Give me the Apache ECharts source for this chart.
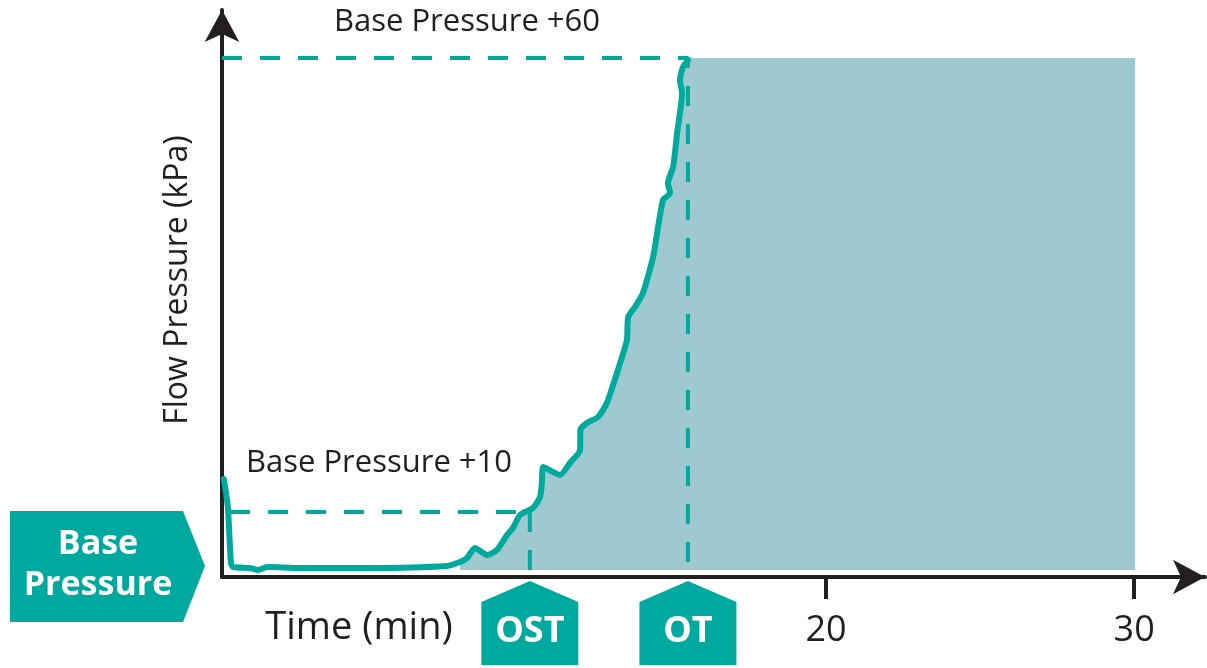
<!DOCTYPE html>
<html>
<head>
<meta charset="utf-8">
<script src="https://cdn.jsdelivr.net/npm/echarts@6/dist/echarts.min.js"></script>
<style>
  html, body { margin: 0; background: #fff; }
  #main { width: 1207px; height: 668px; }
</style>
</head>
<body>
<div id="main"></div>
<script>
// flow pressure trace, [time (min), pressure (schematic units)]
const pressureCurve = [
  [0.46, 19.6], [0.59, 14], [0.69, 2.8], [0.76, 2], [1.31, 1.8], [1.57, 1.4],
  [1.86, 2], [2.93, 1.8], [5.11, 1.8], [7.7, 2.2], [8.12, 3], [8.35, 3.8],
  [8.61, 5.8], [9.0, 4.4], [9.32, 5.4], [9.65, 8.4], [9.84, 9.8], [10.07, 12.4],
  [10.49, 13.8], [10.72, 16], [10.78, 18.8], [10.82, 22], [11.37, 20.4],
  [11.69, 22.8], [12.02, 25.4], [12.03, 29.4], [12.24, 30.8], [12.6, 32],
  [12.89, 34.8], [13.32, 42.8], [13.54, 47.4], [13.58, 52], [13.8, 54],
  [14.06, 56.8], [14.39, 64], [14.71, 75.4], [14.94, 76.8], [14.87, 78.8],
  [15.04, 82], [15.17, 88.8], [15.33, 96.8], [15.26, 99.4], [15.36, 102],
  [15.52, 103.4]
];
const timeTicks = [20, 30];
const markerNames = ['OST', 'OT'];
const markerTimes = [10.39, 15.52];
const levelNames = ['Base Pressure +10', 'Base Pressure +60'];
const levelValues = [13, 103.8];
const fillStart = 8.12;   // where the shaded area begins
const fillBase = 1.4;     // bottom of the shaded area
const aucEnd = 30.03;

const teal = '#00A99D';
const ink = '#231F20';
const font = '"Open Sans", "Noto Sans", sans-serif';

// shaded AUC polygon: under the curve, then the block up to +60
let aucPoly = pressureCurve.filter(p => p[0] >= fillStart);
aucPoly = aucPoly.concat([
  [markerTimes[1], levelValues[1]], [aucEnd, levelValues[1]],
  [aucEnd, fillBase], [fillStart, fillBase]
]);

const dashed = { color: teal, width: 4, type: [20, 18] };

let chart = echarts.init(document.getElementById('main'));
chart.setOption({
  animation: false,
  grid: { left: 222, right: 2, top: 10, bottom: 91, outerBoundsMode: 'none' },
  xAxis: {
    type: 'value', min: 0.4, max: 32.3,
    splitLine: { show: false },
    axisLine: { lineStyle: { color: ink, width: 4 }, symbol: ['none', 'arrow'], symbolSize: [26, 32] },
    axisTick: { customValues: timeTicks, length: 22, lineStyle: { color: ink, width: 4 } },
    axisLabel: { customValues: timeTicks, color: ink, fontSize: 36, fontFamily: font, margin: 36 }
  },
  yAxis: {
    type: 'value', min: 0, max: 113.4,
    splitLine: { show: false },
    axisLine: { show: true, lineStyle: { color: ink, width: 4 }, symbol: ['none', 'arrow'], symbolSize: [26, 32] },
    axisTick: { show: false },
    axisLabel: { show: false }
  },
  series: [
    {
      type: 'custom', silent: true, z: 1,
      data: [0],
      renderItem: function (params, api) {
        return {
          type: 'polygon',
          shape: { points: aucPoly.map(p => api.coord(p)) },
          style: { fill: '#9DC9CF' }
        };
      }
    },
    {
      type: 'line', silent: true, z: 2, symbol: 'none',
      data: [[0.4, levelValues[1]], [markerTimes[1], levelValues[1]], [markerTimes[1], 0]],
      lineStyle: dashed
    },
    {
      type: 'line', silent: true, z: 2, symbol: 'none',
      data: [[0.66, levelValues[0]], [10.0, levelValues[0]]],
      lineStyle: dashed
    },
    {
      type: 'line', silent: true, z: 2, symbol: 'none',
      data: [[markerTimes[0], levelValues[0]], [markerTimes[0], 0]],
      lineStyle: dashed
    },
    {
      type: 'line', silent: true, z: 3, symbol: 'none', smooth: 0.2,
      data: pressureCurve,
      lineStyle: { color: teal, width: 6, cap: 'round', join: 'round' }
    }
  ]
});

// annotations; badge positions come from the marker times
let graphics = [
  { type: 'text', x: 467, y: 22, style: { text: levelNames[1], fill: ink, font: '31px ' + font, align: 'center', verticalAlign: 'middle' } },
  { type: 'text', x: 379, y: 463, style: { text: levelNames[0], fill: ink, font: '31px ' + font, align: 'center', verticalAlign: 'middle' } },
  { type: 'text', x: 178, y: 280, rotation: Math.PI / 2, style: { text: 'Flow Pressure (kPa)', fill: ink, font: '32px ' + font, align: 'center', verticalAlign: 'middle' } },
  { type: 'text', x: 359, y: 628, style: { text: 'Time (min)', fill: ink, font: '38px ' + font, align: 'center', verticalAlign: 'middle' } },
  { type: 'text', x: 982, y: 326, scaleX: 0.78, style: { text: 'AUC', fill: teal, font: 'bold 46px ' + font, align: 'center', verticalAlign: 'middle' } },
  { type: 'polygon', shape: { points: [[10, 511], [183, 511], [205, 566], [183, 622], [10, 622]] }, style: { fill: teal } },
  { type: 'text', x: 98, y: 544, style: { text: 'Base', fill: '#fff', font: 'bold 34px ' + font, align: 'center', verticalAlign: 'middle' } },
  { type: 'text', x: 98, y: 585, style: { text: 'Pressure', fill: '#fff', font: 'bold 34px ' + font, align: 'center', verticalAlign: 'middle' } }
];
markerTimes.forEach(function (t, i) {
  let px = chart.convertToPixel({ gridIndex: 0 }, [t, 0])[0];
  graphics.push({
    type: 'polygon',
    shape: { points: [[px - 48.5, 665], [px - 48.5, 602], [px, 581], [px + 48.5, 602], [px + 48.5, 665]] },
    style: { fill: teal }
  });
  graphics.push({
    type: 'text', x: px, y: 632,
    style: { text: markerNames[i], fill: '#fff', font: 'bold 36px ' + font, align: 'center', verticalAlign: 'middle' }
  });
});
chart.setOption({ graphic: graphics });
</script>
</body>
</html>
